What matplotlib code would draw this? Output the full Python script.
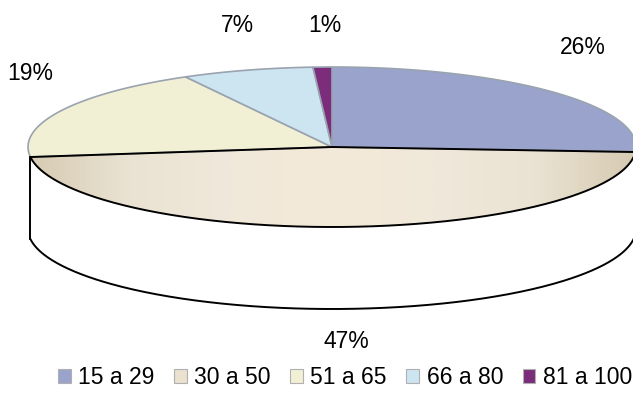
import numpy as np
import matplotlib.pyplot as plt
from matplotlib.patches import Polygon, Patch
import matplotlib.colors as mcolors

plt.rcParams['font.family'] = ['Liberation Sans', 'DejaVu Sans']

# Age groups and their share of respondents (%)
categories = ['15 a 29', '30 a 50', '51 a 65', '66 a 80', '81 a 100']
shares = [26, 47, 19, 7, 1]
pct_labels = ['26%', '47%', '19%', '7%', '1%']
colors = ['#99A3CB', '#EAE1CE', '#F2F0D4', '#CDE4F1', '#7B2C7B']
# label anchor points (pixels) for each percentage
label_pos = [(583, 48), (346, 341), (30, 74), (237, 25), (325, 25)]

W, H = 633, 400
fig = plt.figure(figsize=(W / 100, H / 100), dpi=100)
ax = fig.add_axes([0, 0, 1, 1])
ax.set_xlim(0, W)
ax.set_ylim(H, 0)
ax.axis('off')

# ellipse geometry of the tilted pie
cx, cy, a, b = 332, 147, 304, 80
depth = 82


def arc(t0, t1, dy=0.0, n=300):
    t = np.radians(np.linspace(t0, t1, n))
    return np.column_stack([cx + a * np.cos(t), cy + dy - b * np.sin(t)])


fr = np.array(shares, dtype=float) / sum(shares)
ends = 90 - 360 * np.cumsum(fr)
starts = np.concatenate([[90], ends[:-1]])

# front slice (30 a 50): extruded white side
s1, e1 = starts[1], ends[1]
top_edge = arc(s1, e1)
bottom_edge = arc(e1, s1, dy=depth)
side = np.vstack([top_edge, bottom_edge])
ax.add_patch(Polygon(side, closed=True, facecolor='white', edgecolor='none', zorder=1))
ax.plot(bottom_edge[:, 0], bottom_edge[:, 1], color='black', lw=1.4, zorder=1.5)
ax.plot([top_edge[-1, 0], bottom_edge[0, 0]], [top_edge[-1, 1], bottom_edge[0, 1]],
        color='black', lw=1.4, zorder=1.5)

# top face of the front slice with horizontal shading
face = np.vstack([[cx, cy], top_edge])
face_patch = Polygon(face, closed=True, facecolor='none', edgecolor='none', zorder=2)
ax.add_patch(face_patch)
shade = mcolors.LinearSegmentedColormap.from_list(
    'shade', ['#D6CAB2', '#EAE3D3', '#F0E8DA', '#F4EAD8', '#F0E8DA', '#EAE3D3', '#D6CAB2'])
grad = np.linspace(0, 1, 512)[None, :]
img = ax.imshow(grad, cmap=shade, extent=(cx - a, cx + a, cy + b, cy), aspect='auto',
                zorder=2, interpolation='bilinear')
img.set_clip_path(face_patch)
ax.set_xlim(0, W)
ax.set_ylim(H, 0)
ax.plot(top_edge[:, 0], top_edge[:, 1], color='black', lw=1.4, zorder=3)

# remaining slices on the top face
for i in [0, 2, 3, 4]:
    pts = np.vstack([[cx, cy], arc(starts[i], ends[i])])
    ax.add_patch(Polygon(pts, closed=True, facecolor=colors[i], edgecolor='#9AA3B0',
                         lw=1.2, joinstyle='round', zorder=2))

# diameter line bounding the front slice
ax.plot([top_edge[-1, 0], cx, top_edge[0, 0]], [top_edge[-1, 1], cy, top_edge[0, 1]],
        color='black', lw=1.4, zorder=3)

for (x, y), s in zip(label_pos, pct_labels):
    ax.text(x, y, s, ha='center', va='center', fontsize=16.5, color='black', zorder=4)

handles = [Patch(facecolor=c, edgecolor='#B0B0B0', lw=0.8) for c in colors]
fig.legend(handles, categories, loc='center', bbox_to_anchor=(345 / W, 1 - 378 / H),
           ncol=5, frameon=False, fontsize=16.5, handlelength=0.55, handleheight=0.55,
           handletextpad=0.33, columnspacing=0.85, borderpad=0)

fig.savefig('out.png', dpi=100)
